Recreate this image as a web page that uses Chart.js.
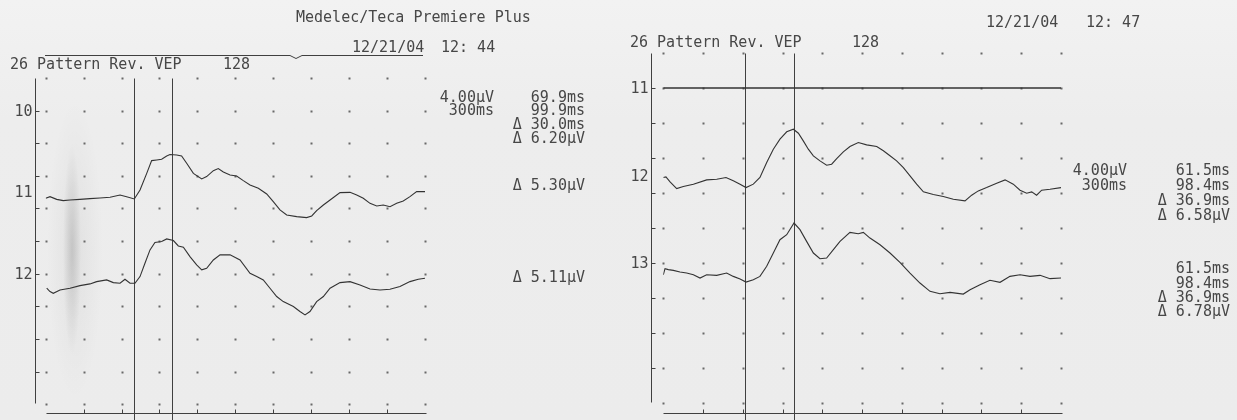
<!DOCTYPE html>
<html>
<head>
<meta charset="utf-8">
<script src="https://cdn.jsdelivr.net/npm/chart.js@4/dist/chart.umd.min.js"></script>
<style>
html, body { margin: 0; padding: 0; background: #ededed; }
#page {
    position: relative; width: 1237px; height: 420px; overflow: hidden;
    background:
        radial-gradient(ellipse 9px 105px at 72px 250px, rgba(0,0,0,0.13), rgba(0,0,0,0) 100%),
        radial-gradient(ellipse 28px 150px at 75px 250px, rgba(0,0,0,0.05), rgba(0,0,0,0) 100%),
        linear-gradient(180deg, #f2f2f2 0px, #ededed 120px, #ececec 420px);
    font-family: "DejaVu Sans Mono", monospace; font-size: 15px; color: #474747;
}
canvas { position: absolute; top: 0; }
.t { position: absolute; white-space: pre; line-height: 15px; }
</style>
</head>
<body>
<div id="page">
    <canvas id="leftChart" width="620" height="420" style="left:0"></canvas>
    <canvas id="rightChart" width="617" height="420" style="left:620px"></canvas>
    <svg style="position:absolute;left:0;top:0" width="620" height="70">
        <polyline points="45,55.5 290,55.5 296,58.5 302,55.5 423,55.5" fill="none" stroke="#404040" stroke-width="1"/>
    </svg>
</div>
<script>
'use strict';

// sweep 300 ms, 30 ms/div ; sensitivity 4 µV/div
const msTicks = [0, 30, 60, 90, 120, 150, 180, 210, 240, 270, 300];
const uvTicks = [0, 4, 8, 12, 16, 20, 24, 28, 32, 36, 40];

// channel labels and their level on the y scale (µV)
const leftChannels  = ['10', '11', '12'];
const leftLevels    = [36, 26, 16];
const rightChannels = ['11', '12', '13'];
const rightLevels   = [36, 26, 16];

// cursor latencies (ms)
const leftCursors  = [69.9, 99.9];
const rightCursors = [61.5, 98.4];

// traces: [ms, µV relative to channel level]
const left11 = [[0,-0.75],[3.4,-0.55],[8.7,-0.88],[13.9,-1.04],[19.2,-0.96],[27.1,-0.88],[35,-0.79],
    [42.9,-0.71],[50.9,-0.63],[58.8,-0.34],[64,-0.55],[70.1,-0.83],[74.6,0.27],[79.9,2.31],[83.8,3.87],
    [87.8,3.95],[91.7,4.03],[95.7,4.44],[98.3,4.61],[103.6,4.56],[107.5,4.44],[111.5,3.54],[116.8,2.31],
    [123.4,1.62],[127.3,1.91],[132.6,2.64],[136.5,2.89],[140.5,2.48],[145.8,2.11],[151,1.99],[156.3,1.42],
    [161.6,0.88],[168.2,0.47],[174.8,-0.22],[180,-1.16],[185.3,-2.18],[190.6,-2.8],[198.5,-3.0],
    [206.4,-3.12],[210.4,-2.92],[214.3,-2.27],[219.6,-1.57],[224.9,-0.96],[232.8,-0.06],[240.7,-0.02],
    [246,-0.34],[251.2,-0.75],[256.5,-1.37],[261.8,-1.69],[267,-1.57],[272.3,-1.78],[277.6,-1.37],
    [282.8,-1.08],[288.1,-0.55],[293.4,0.07],[300,0.07]];

const left12 = [[0.8,-1.78],[3.4,-2.19],[6,-2.4],[11.3,-1.99],[19.2,-1.78],[27.1,-1.46],[35,-1.25],
    [40.3,-0.97],[48.2,-0.76],[53.5,-1.09],[58.8,-1.17],[62.7,-0.68],[66.7,-1.17],[70.6,-1.17],[74.6,-0.35],
    [78.5,1.28],[82.5,2.92],[86.4,3.82],[91.7,3.94],[95.7,4.27],[101,4.07],[104.9,3.41],[108.9,3.25],
    [114.1,2.1],[119.4,1.08],[123.4,0.47],[127.3,0.67],[132.6,1.69],[137.9,2.31],[145.8,2.31],[153.7,1.69],
    [161.6,0.06],[166.9,-0.35],[172.1,-0.76],[177.4,-1.78],[182.7,-2.8],[187.9,-3.42],[195.9,-4.03],
    [201.1,-4.64],[205.1,-5.05],[209,-4.64],[214.3,-3.42],[219.6,-2.8],[224.9,-1.78],[232.8,-1.09],
    [240.7,-0.97],[248.6,-1.37],[256.5,-1.87],[264.4,-1.99],[272.3,-1.91],[280.2,-1.58],[288.1,-0.97],
    [294.7,-0.68],[300,-0.56]];

const right11 = [[0,0],[300,0]];

const right12 = [[0,-0.23],[2,-0.16],[5.1,-0.73],[10.1,-1.49],[15.1,-1.26],[22.7,-0.99],[32.7,-0.5],
    [40.3,-0.42],[47.3,-0.23],[52.8,-0.61],[57.9,-0.99],[62.4,-1.38],[67.9,-0.99],[72.9,-0.23],[78,1.48],
    [83,3.01],[88,4.15],[93.1,4.99],[98.1,5.29],[101.9,4.83],[105.6,3.96],[109.4,3.01],[113.2,2.25],
    [118.2,1.67],[123.2,1.18],[127,1.29],[130.8,1.94],[135.8,2.7],[140.8,3.31],[147.1,3.77],[153.4,3.5],
    [161,3.31],[166,2.82],[171,2.25],[176,1.67],[181.1,0.91],[186.1,-0.04],[191.1,-0.99],[196.2,-1.87],
    [203.7,-2.18],[211.2,-2.4],[218.8,-2.71],[227.6,-2.9],[232.6,-2.25],[237.6,-1.76],[243.9,-1.38],
    [251.5,-0.88],[257.8,-0.5],[264,-0.99],[269.1,-1.68],[274.1,-2.02],[277.9,-1.87],[281.6,-2.25],
    [285.4,-1.68],[291.7,-1.57],[300,-1.38]];

const right13 = [[0,-1.34],[1.3,-0.65],[3.8,-0.76],[7.6,-0.84],[12.6,-1.03],[17.6,-1.15],[22.7,-1.34],
    [27.7,-1.72],[32.7,-1.34],[40.3,-1.41],[47.8,-1.15],[52.8,-1.53],[57.9,-1.83],[62.4,-2.18],[67.9,-1.91],
    [72.9,-1.53],[78,-0.38],[83,1.14],[88,2.66],[93.1,3.23],[98.6,4.57],[103.1,3.81],[108.1,2.47],
    [113.2,1.14],[118.2,0.49],[123.2,0.57],[128.3,1.52],[133.3,2.47],[140.8,3.5],[147.1,3.35],[150.9,3.5],
    [155.9,2.85],[163.5,2.09],[171,1.14],[178.5,0.07],[186.1,-1.15],[193.6,-2.29],[201.2,-3.24],
    [208.7,-3.51],[216.3,-3.36],[226.3,-3.55],[231.4,-3.05],[238.9,-2.48],[246.4,-1.98],[254,-2.21],
    [261.5,-1.53],[269.1,-1.34],[276.6,-1.53],[284.2,-1.41],[291.7,-1.79],[300,-1.72]];

// header and readout texts: [text, x, y centre, align]
const leftTexts = [
    ['Medelec/Teca Premiere Plus', 296, 17, 'l'],
    ['12/21/04', 352, 47, 'l'], ['12: 44', 441, 47, 'l'],
    ['26 Pattern Rev. VEP', 10, 64, 'l'], ['128', 223, 64, 'l'],
    ['4.00µV', 494, 97, 'r'], ['300ms', 494, 110, 'r'],
    ['69.9ms', 585, 97, 'r'], ['99.9ms', 585, 110, 'r'],
    ['Δ 30.0ms', 585, 124, 'r'], ['Δ 6.20µV', 585, 138, 'r'],
    ['Δ 5.30µV', 585, 185, 'r'], ['Δ 5.11µV', 585, 277, 'r']
];
const rightTexts = [
    ['12/21/04', 986, 22, 'l'], ['12: 47', 1086, 22, 'l'],
    ['26 Pattern Rev. VEP', 630, 42, 'l'], ['128', 852, 42, 'l'],
    ['4.00µV', 1127, 170, 'r'], ['300ms', 1127, 185, 'r'],
    ['61.5ms', 1230, 170, 'r'], ['98.4ms', 1230, 185, 'r'],
    ['Δ 36.9ms', 1230, 200, 'r'], ['Δ 6.58µV', 1230, 215, 'r'],
    ['61.5ms', 1230, 268, 'r'], ['98.4ms', 1230, 283, 'r'],
    ['Δ 36.9ms', 1230, 297, 'r'], ['Δ 6.78µV', 1230, 311, 'r']
];

const page = document.getElementById('page');
for (const [s, x, y, al] of leftTexts.concat(rightTexts)) {
    const d = document.createElement('div');
    d.className = 't';
    d.textContent = s;
    d.style.top = (y - 7.5) + 'px';
    if (al === 'r') d.style.right = (1237 - x) + 'px';
    else d.style.left = x + 'px';
    page.appendChild(d);
}

const INK = '#404040';

// plotter furniture: dot grid, axes, channel labels, cursors
const vepPlugin = {
    id: 'vep',
    beforeDatasetsDraw(chart, args, o) {
        const { ctx, scales: { x, y } } = chart;
        const px = v => Math.round(x.getPixelForValue(v)) + 0.5;
        const py = v => Math.round(y.getPixelForValue(v)) + 0.5;
        ctx.save();

        ctx.fillStyle = '#686868';
        for (const t of msTicks) for (const u of uvTicks)
            ctx.fillRect(px(t) - 1, py(u) - 1, 2, 2);

        ctx.strokeStyle = INK;
        ctx.lineWidth = 1;
        ctx.beginPath();
        const ax = px(0) - o.axisGap;
        ctx.moveTo(ax, py(40)); ctx.lineTo(ax, py(0) - 1);
        for (const u of uvTicks.slice(1, -1)) { ctx.moveTo(ax, py(u)); ctx.lineTo(ax + 4, py(u)); }
        const by = py(0) + o.baseGap;
        ctx.moveTo(px(0), by); ctx.lineTo(px(300) + 1, by);
        for (const t of msTicks.slice(1, -1)) { ctx.moveTo(px(t), by); ctx.lineTo(px(t), by - 4); }
        for (const c of o.cursors) { ctx.moveTo(px(c), py(40)); ctx.lineTo(px(c), chart.height); }
        ctx.stroke();

        ctx.fillStyle = '#474747';
        ctx.font = '15px "DejaVu Sans Mono", monospace';
        ctx.textAlign = 'right';
        ctx.textBaseline = 'middle';
        o.channels.forEach((lab, i) => ctx.fillText(lab, ax - 3, py(o.levels[i]) + 1));
        ctx.restore();
    }
};

function trace(points, level, w) {
    return {
        data: points.map(p => ({ x: p[0], y: level + p[1] })),
        borderColor: '#333333', borderWidth: w || 1.1,
        pointRadius: 0, tension: 0, fill: false
    };
}

function makeChart(id, datasets, pad, vep) {
    return new Chart(document.getElementById(id).getContext('2d'), {
        type: 'line',
        data: { datasets },
        options: {
            responsive: false,
            animation: false,
            events: [],
            layout: { padding: pad },
            plugins: { legend: { display: false }, tooltip: { enabled: false }, vep },
            scales: {
                x: { type: 'linear', min: 0, max: 300, display: false },
                y: { min: 0, max: 40, display: false }
            }
        },
        plugins: [vepPlugin]
    });
}

makeChart('leftChart',
    [trace(left11, leftLevels[1]), trace(left12, leftLevels[2])],
    { left: 45.7, right: 620 - 425, top: 78, bottom: 420 - 404.2 },
    { channels: leftChannels, levels: leftLevels, cursors: leftCursors, axisGap: 11, baseGap: 9 });

makeChart('rightChart',
    [trace(right11, rightLevels[0], 1.4), trace(right12, rightLevels[1]), trace(right13, rightLevels[2])],
    { left: 43.3, right: 617 - 441, top: 53, bottom: 420 - 403 },
    { channels: rightChannels, levels: rightLevels, cursors: rightCursors, axisGap: 12, baseGap: 10 });
</script>
</body>
</html>
